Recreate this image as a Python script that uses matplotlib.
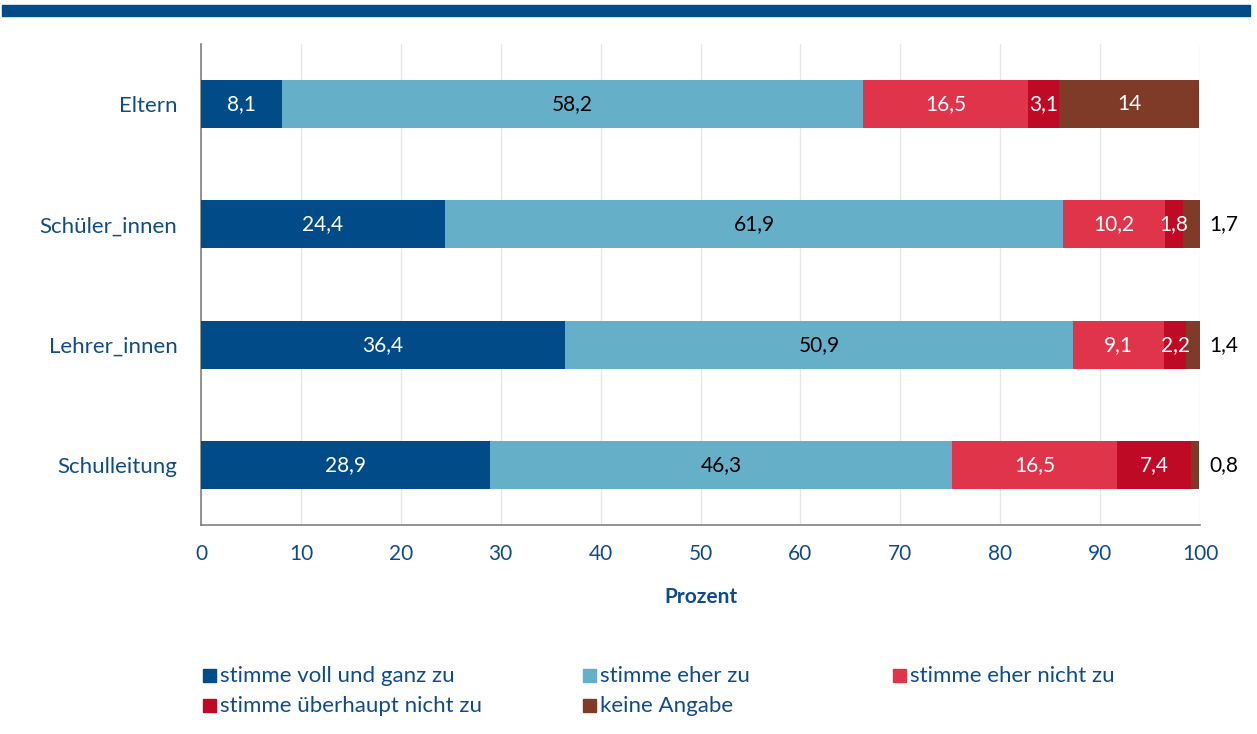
import matplotlib
matplotlib.use("Agg")
import matplotlib.pyplot as plt
from matplotlib.patches import Rectangle
import numpy as np

plt.rcParams['font.family'] = ['Lato', 'DejaVu Sans']

categories = ["Eltern", "Schüler_innen", "Lehrer_innen", "Schulleitung"]
series = ["stimme voll und ganz zu", "stimme eher zu", "stimme eher nicht zu",
          "stimme überhaupt nicht zu", "keine Angabe"]
voll = [8.1, 24.4, 36.4, 28.9]
eher = [58.2, 61.9, 50.9, 46.3]
eher_nicht = [16.5, 10.2, 9.1, 16.5]
ueberhaupt_nicht = [3.1, 1.8, 2.2, 7.4]
keine_angabe = [14, 1.7, 1.4, 0.8]
values = [voll, eher, eher_nicht, ueberhaupt_nicht, keine_angabe]
colors = ["#004B88", "#65B0C8", "#E0344B", "#BE0A25", "#7F3A28"]
text_colors = ["white", "black", "white", "white", "white"]
xticks = [0, 10, 20, 30, 40, 50, 60, 70, 80, 90, 100]

blue = "#104C8C"
FS = 15
FS_L = 16

W, H = 1257, 734
fig = plt.figure(figsize=(W / 100, H / 100), dpi=100)
fig.patches.append(Rectangle((2 / W, 1 - 16 / H), 1248 / W, 11 / H,
                             transform=fig.transFigure, color="#004B88", zorder=0))

ax = fig.add_axes([201 / W, 1 - 525 / H, 999 / W, 481 / H])
y = np.arange(len(categories))
left = np.zeros(len(categories))
for vals, col, tcol in zip(values, colors, text_colors):
    vals = np.array(vals, dtype=float)
    ax.barh(y, vals, left=left, height=0.4, color=col, zorder=3)
    for i, v in enumerate(vals):
        label = f"{v:g}".replace(".", ",")
        if col == colors[-1] and v < 2:
            ax.text(100.9, y[i], label, ha="left", va="center", color="black",
                    fontsize=FS, zorder=4)
        else:
            ax.text(left[i] + v / 2, y[i], label, ha="center", va="center",
                    color=tcol, fontsize=FS, zorder=4)
    left += vals

ax.set_ylim(3.5, -0.5)
ax.set_xlim(0, 100)
ax.set_xticks(xticks)
ax.set_xticklabels([str(t) for t in xticks])
ax.set_yticks(y)
ax.set_yticklabels(categories)
ax.tick_params(axis="both", length=0, colors=blue)
ax.tick_params(axis="x", pad=14, labelsize=FS)
ax.tick_params(axis="y", pad=17, labelsize=FS_L)
ax.grid(axis="x", color="#E6E6E6", linewidth=1, zorder=0)
for s in ["top", "right"]:
    ax.spines[s].set_visible(False)
for s in ["left", "bottom"]:
    ax.spines[s].set_color("#808080")
    ax.spines[s].set_linewidth(1.2)
ax.set_xlabel("Prozent", color=blue, fontsize=FS, fontweight="bold", labelpad=16)

# legend drawn manually
leg_pos = [(203, 676), (583, 676), (893, 676), (203, 706), (583, 706)]
for (px, py), name, col in zip(leg_pos, series, colors):
    fig.patches.append(Rectangle((px / W, 1 - (py + 6) / H), 13 / W, 13 / H,
                                 transform=fig.transFigure, color=col))
    fig.text((px + 17) / W, 1 - py / H, name, ha="left", va="center",
             color=blue, fontsize=FS_L)

fig.savefig("out.png", dpi=100)
